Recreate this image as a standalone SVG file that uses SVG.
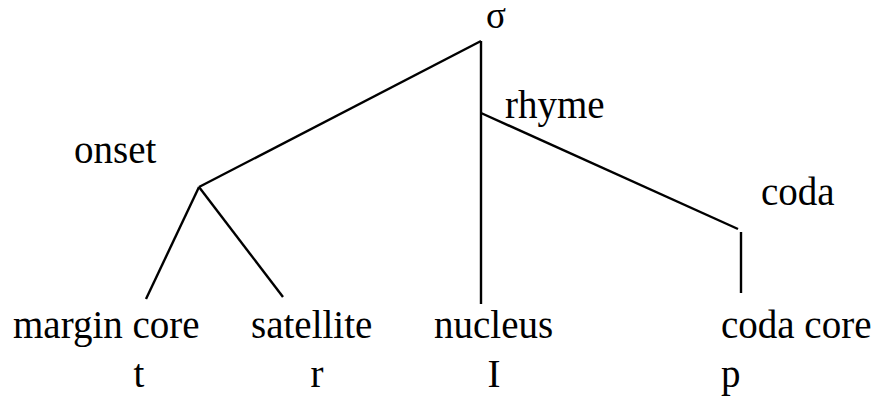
<svg xmlns="http://www.w3.org/2000/svg" width="887" height="399" viewBox="0 0 887 399">
<style>
.t{font-family:"Liberation Serif","Times New Roman",serif;font-size:39px;fill:#000}
.s{font-size:37px}
.e{stroke:#000;stroke-width:2.4;fill:none;stroke-linecap:butt}
</style>
<rect width="887" height="399" fill="#fff"/>
<g id="connectors">
<line class="e" x1="481" y1="41" x2="199" y2="187"/>
<line class="e" x1="481" y1="41" x2="481" y2="304"/>
<line class="e" x1="481" y1="113" x2="738" y2="229"/>
<line class="e" x1="741" y1="232" x2="741" y2="293"/>
<line class="e" x1="199" y1="187" x2="146" y2="299"/>
<line class="e" x1="199" y1="187" x2="283" y2="297"/>
</g>
<g id="sigma"><text class="t s" x="486" y="28">σ</text></g>
<g id="rhyme"><text class="t" x="505" y="118">rhyme</text></g>
<g id="onset"><text class="t" x="74" y="163">onset</text></g>
<g id="coda"><text class="t" x="761" y="205">coda</text></g>
<g id="margin-core"><text class="t" x="13" y="338">margin core</text><text class="t" x="139" y="387" text-anchor="middle">t</text></g>
<g id="satellite"><text class="t" x="251" y="338">satellite</text><text class="t" x="317" y="387" text-anchor="middle">r</text></g>
<g id="nucleus"><text class="t" x="434" y="338">nucleus</text><text class="t" x="494" y="387" text-anchor="middle">I</text></g>
<g id="coda-core"><text class="t" x="721" y="338">coda core</text><text class="t" x="721" y="387">p</text></g>
</svg>
